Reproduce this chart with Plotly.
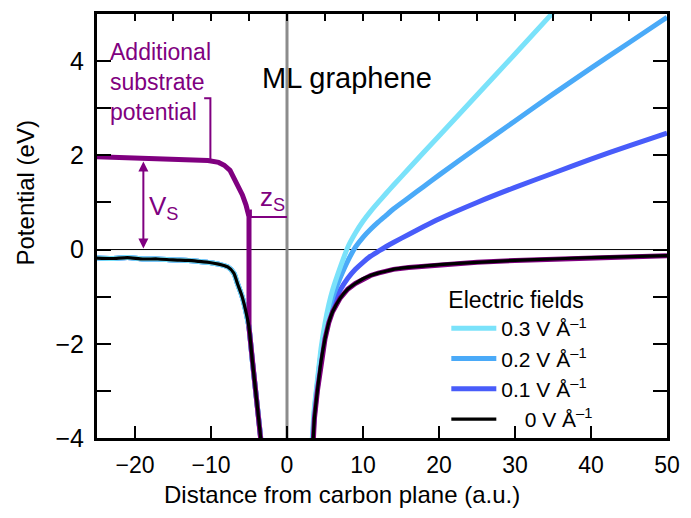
import plotly.graph_objects as go

# ---- data ----
z_left = [-25, -23, -21, -19, -17, -15, -13, -11.7, -10, -9, -7.8, -7, -6.5, -6, -5.65, -5.3, -5.0, -4.57, -4.0, -3.48, -3.35]
v_left = [-0.18, -0.19, -0.17, -0.2, -0.2, -0.22, -0.23, -0.25, -0.28, -0.31, -0.37, -0.5, -0.73, -0.95, -1.15, -1.4, -1.65, -2.35, -3.19, -3.97, -4.2]

z_sub = [-25, -22, -19, -16, -13, -10.4, -9, -8.26, -7.5, -6.96, -6.4, -5.87, -5.4, -5.0, -5.0, -4.57, -4.0, -3.48, -3.35]
v_sub = [1.97, 1.95, 1.93, 1.92, 1.9, 1.89, 1.85, 1.79, 1.68, 1.51, 1.35, 1.16, 0.95, 0.7, -1.65, -2.35, -3.19, -3.97, -4.2]

z_right = [3.0, 3.3, 3.6, 4.0, 4.5, 5.0, 5.5, 6.0, 7.0, 8.0, 9.0, 10, 11, 12, 13, 14, 16, 18, 20, 25, 30, 35, 40, 45, 50]
v_0V = [-5.6, -4.5, -3.6, -3.0, -2.35, -1.9, -1.55, -1.32, -1.03, -0.84, -0.72, -0.62, -0.55, -0.5, -0.46, -0.42, -0.38, -0.35, -0.32, -0.27, -0.23, -0.2, -0.17, -0.15, -0.13]
v_01V = [-5.5, -4.4, -3.52, -2.93, -2.27, -1.8, -1.45, -1.2, -0.86, -0.61, -0.42, -0.27, -0.14, -0.04, 0.06, 0.15, 0.32, 0.49, 0.65, 1.0, 1.32, 1.62, 1.92, 2.2, 2.47]
v_02V = [-5.3, -4.3, -3.45, -2.85, -2.17, -1.68, -1.3, -1.02, -0.6, -0.24, 0.05, 0.26, 0.43, 0.58, 0.72, 0.86, 1.1, 1.34, 1.58, 2.16, 2.73, 3.3, 3.85, 4.39, 4.93]
z_03 = [3.0, 3.3, 3.6, 4.0, 4.5, 5.0, 5.5, 6.0, 7.0, 8.0, 9.0, 10, 11, 12, 13, 14, 16, 18, 20, 25, 30, 35]
v_03V = [-5.1, -4.1, -3.35, -2.78, -2.07, -1.57, -1.17, -0.86, -0.38, 0.05, 0.35, 0.6, 0.81, 1.0, 1.185, 1.365, 1.715, 2.065, 2.41, 3.28, 4.15, 5.03]

field_labels = ["0.3 V Å<sup>\u20131</sup>", "0.2 V Å<sup>\u20131</sup>", "0.1 V Å<sup>\u20131</sup>", "\u00a0\u00a0\u00a0\u00a00 V Å<sup>\u20131</sup>"]
colors = {"0.3": "#7ae2fa", "0.2": "#4aaaf8", "0.1": "#485cfa", "0": "#000000", "sub": "#800080"}

x_ticks = [-20, -10, 0, 10, 20, 30, 40, 50]
y_ticks = [-4, -2, 0, 2, 4]

FONT = "Liberation Sans, Arial, sans-serif"

fig = go.Figure()

def join(a, b):
    return a + [None] + b

SPL = dict(shape="spline", smoothing=0.6)

fig.add_trace(go.Scatter(x=join(z_left, z_right), y=join(v_left, v_01V), mode="lines",
                         line=dict(color=colors["0.1"], width=5, **SPL), name=field_labels[2], legendrank=3))
fig.add_trace(go.Scatter(x=join(z_left, z_right), y=join(v_left, v_02V), mode="lines",
                         line=dict(color=colors["0.2"], width=5, **SPL), name=field_labels[1], legendrank=2))
fig.add_trace(go.Scatter(x=join(z_left, z_03), y=join(v_left, v_03V), mode="lines",
                         line=dict(color=colors["0.3"], width=5, **SPL), name=field_labels[0], legendrank=1))
fig.add_trace(go.Scatter(x=join(z_sub, z_right), y=join(v_sub, v_0V), mode="lines",
                         line=dict(color=colors["sub"], width=5), showlegend=False))
fig.add_trace(go.Scatter(x=join(z_left, z_right), y=join(v_left, v_0V), mode="lines",
                         line=dict(color=colors["0"], width=3.2, **SPL), name=field_labels[3], legendrank=4))
# invisible trace to activate the top minor-tick axis
fig.add_trace(go.Scatter(x=[-25, 50], y=[None, None], xaxis="x2", showlegend=False, hoverinfo="skip"))

purple = colors["sub"]
shapes = [
    dict(type="line", xref="x", yref="y", x0=-25, x1=50, y0=0, y1=0, line=dict(color="black", width=1), layer="below"),
    dict(type="line", xref="x", yref="y", x0=0, x1=0, y0=-4, y1=5, line=dict(color="#8c8c8c", width=3), layer="below"),
    # bracket for "Additional substrate potential"
    dict(type="path", xref="x", yref="y", path="M -10.9,3.21 L -10.08,3.21 L -10.08,1.9", line=dict(color=purple, width=2)),
    # z_S marker
    dict(type="line", xref="x", yref="y", x0=-5.0, x1=0, y0=0.69, y1=0.69, line=dict(color=purple, width=2)),
    dict(type="line", xref="x", yref="y", x0=-4.75, x1=-4.75, y0=0.69, y1=0.85, line=dict(color=purple, width=2)),
]

L, R, T, B = 97, 18, 11, 80
W, H = 691, 518
pw, ph = W - L - R, H - T - B

def dom_x(px):
    return (px - L) / pw

def dom_y(py):
    return (H - B - py) / ph

annotations = [
    dict(x=-23.5, y=4.52, xref="x", yref="y", text="Additional<br>substrate<br>potential", showarrow=False,
         xanchor="left", yanchor="top", align="left", font=dict(color=purple, size=23, family=FONT)),
    dict(x=-18.9, y=0.02, ax=-18.9, ay=1.9, xref="x", yref="y", axref="x", ayref="y", text="",
         showarrow=True, arrowhead=2, startarrowhead=2, arrowside="end+start", arrowcolor=purple, arrowwidth=2, arrowsize=1),
    dict(x=-18.4, y=0.9, xref="x", yref="y", text="V<sub>S</sub>", showarrow=False, xanchor="left", yanchor="middle",
         font=dict(color=purple, size=26, family=FONT)),
    dict(x=-3.8, y=1.08, xref="x", yref="y", text="z<sub>S</sub>", showarrow=False, xanchor="left", yanchor="middle",
         font=dict(color=purple, size=26, family=FONT)),
    dict(x=7.9, y=3.65, xref="x", yref="y", text="ML graphene", showarrow=False, xanchor="center", yanchor="middle",
         font=dict(color="black", size=29, family=FONT)),
    dict(x=dom_x(345), y=dom_y(495), xref="paper", yref="paper", text="Distance from carbon plane (a.u.)",
         showarrow=False, xanchor="center", yanchor="middle", font=dict(color="black", size=24, family=FONT)),
    dict(x=dom_x(25), y=dom_y(191), xref="paper", yref="paper", text="Potential (eV)", textangle=-90,
         showarrow=False, xanchor="center", yanchor="middle", font=dict(color="black", size=24, family=FONT)),
]

fig.update_layout(
    width=W, height=H,
    margin=dict(l=L, r=R, t=T, b=B, pad=0),
    paper_bgcolor="white", plot_bgcolor="white",
    font=dict(family=FONT, color="black", size=22),
    xaxis=dict(range=[-25, 50], tickvals=x_ticks, ticks="inside", ticklen=12, tickwidth=2, tickcolor="black",
               showline=True, linewidth=3, linecolor="black", mirror=True, showgrid=False, zeroline=False,
               tickfont=dict(size=23), ticklabelstandoff=4),
    xaxis2=dict(range=[-25, 50], overlaying="x", side="top", dtick=5, tick0=0, ticks="inside", ticklen=7,
                tickwidth=2, tickcolor="black", showticklabels=False, showline=False, showgrid=False, zeroline=False),
    yaxis=dict(range=[-4, 5], tickvals=y_ticks, ticks="inside", ticklen=14, tickwidth=2, tickcolor="black",
               minor=dict(dtick=1, tick0=1, ticks="inside", ticklen=8, tickwidth=2, tickcolor="black", showgrid=False),
               showline=True, linewidth=3, linecolor="black", mirror="allticks", showgrid=False, zeroline=False,
               tickfont=dict(size=25), ticklabelstandoff=5),
    legend=dict(x=dom_x(450), y=dom_y(277), xanchor="left", yanchor="top",
                bgcolor="rgba(0,0,0,0)", font=dict(size=21), title=dict(text="Electric fields", font=dict(size=23)),
                itemwidth=45, tracegroupgap=0),
    shapes=shapes, annotations=annotations, showlegend=True,
)

fig.write_html("out.html")
